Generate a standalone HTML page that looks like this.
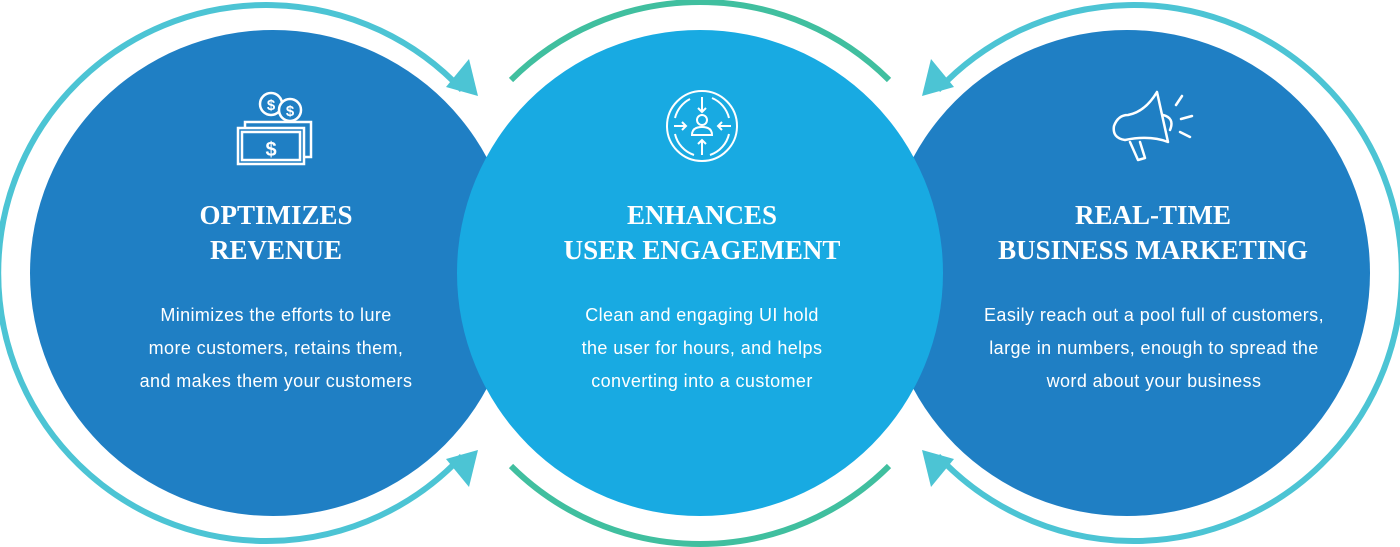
<!DOCTYPE html>
<html><head><meta charset="utf-8"><style>
html,body{margin:0;padding:0;background:#fff;}
svg{display:block}
.t{font-family:"Liberation Serif",serif;font-weight:bold;font-size:27px;fill:#fff;text-anchor:middle}
.b{font-family:"Liberation Sans",sans-serif;font-size:18px;letter-spacing:0.4px;fill:#fff;text-anchor:middle}
</style></head><body>
<svg width="1400" height="547" viewBox="0 0 1400 547" xmlns="http://www.w3.org/2000/svg">
<circle cx="273" cy="273" r="243" fill="#1f7fc4"/>
<circle cx="1127" cy="273" r="243" fill="#1f7fc4"/>
<circle cx="700" cy="273" r="243" fill="#18aae2"/>
<g fill="none" stroke="#4cc4d4" stroke-width="6">
<path d="M462 90 A268 268 0 1 0 462 456"/>
<path d="M938 90 A268 268 0 1 1 938 456"/>
</g>
<g fill="none" stroke="#40bf9f" stroke-width="6">
<path d="M511 80 A268 268 0 0 1 889 80"/>
<path d="M511 466 A268 268 0 0 0 889 466"/>
</g>
<g fill="#4cc4d4">
<polygon points="478,96 469,59 446,87"/>
<polygon points="478,450 446,459 469,487"/>
<polygon points="922,96 931,59 954,87"/>
<polygon points="922,450 954,459 931,487"/>
</g>
<!-- money icon -->
<g fill="none" stroke="#fff" stroke-width="2.5">
<rect x="245" y="122" width="66" height="35"/>
<rect x="238" y="128" width="66" height="36" fill="#1f7fc4"/>
<rect x="242" y="132" width="58" height="28"/>
<circle cx="271" cy="104" r="11" fill="#1f7fc4"/>
<circle cx="290" cy="110" r="11" fill="#1f7fc4"/>
</g>
<g font-family="Liberation Sans,sans-serif" font-weight="bold" fill="#fff" text-anchor="middle">
<text x="271" y="110" font-size="15">$</text>
<text x="290" y="116" font-size="15">$</text>
<text x="271" y="156" font-size="20">$</text>
</g>
<!-- engagement icon -->
<g fill="none" stroke="#fff" stroke-width="2">
<circle cx="702" cy="126" r="35"/>
<path d="M690 99 A29 29 0 0 0 675 118 M675 134 A29 29 0 0 0 694 155 M710 155 A29 29 0 0 0 729 134 M729 118 A29 29 0 0 0 712 98"/>
<path d="M702 97 V112 M698 108 L702 112 L706 108"/>
<path d="M702 155 V140 M698 144 L702 140 L706 144"/>
<path d="M674 126 H686 M682 122 L686 126 L682 130"/>
<path d="M731 126 H718 M722 122 L718 126 L722 130"/>
<circle cx="702" cy="120" r="5"/>
<path d="M692 135 Q692 127 702 127 Q712 127 712 135 Z"/>
</g>
<!-- megaphone -->
<g fill="none" stroke="#fff" stroke-width="2.5" stroke-linecap="round" stroke-linejoin="round">
<path d="M1157 92 L1168 142 Q1150 135 1125 140 Q1112 138 1114 126 Q1118 115 1128 115 Q1145 112 1157 92 Z"/>
<path d="M1163 115 Q1175 118 1170 130"/>
<path d="M1130 142 L1138 160 L1145 158 L1140 142"/>
<path d="M1176 105 L1182 96 M1181 119 L1192 116 M1180 132 L1190 137"/>
</g>
<text class="t" x="276" y="224">OPTIMIZES</text>
<text class="t" x="276" y="259">REVENUE</text>
<text class="t" x="702" y="224">ENHANCES</text>
<text class="t" x="702" y="259">USER ENGAGEMENT</text>
<text class="t" x="1153" y="224">REAL-TIME</text>
<text class="t" x="1153" y="259">BUSINESS MARKETING</text>
<text class="b" x="276" y="321">Minimizes the efforts to lure</text>
<text class="b" x="276" y="354">more customers, retains them,</text>
<text class="b" x="276" y="387">and makes them your customers</text>
<text class="b" x="702" y="321">Clean and engaging UI hold</text>
<text class="b" x="702" y="354">the user for hours, and helps</text>
<text class="b" x="702" y="387">converting into a customer</text>
<text class="b" x="1154" y="321">Easily reach out a pool full of customers,</text>
<text class="b" x="1154" y="354">large in numbers, enough to spread the</text>
<text class="b" x="1154" y="387">word about your business</text>
</svg>
</body></html>
